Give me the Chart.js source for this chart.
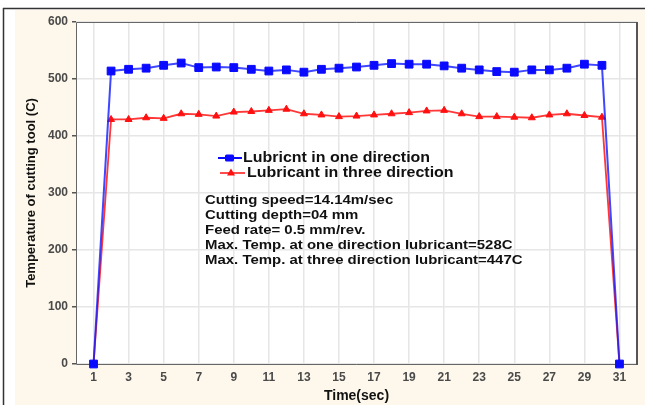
<!DOCTYPE html>
<html><head><meta charset="utf-8">
<script src="https://cdn.jsdelivr.net/npm/chart.js@4/dist/chart.umd.min.js"></script>
<style>html,body{margin:0;padding:0;background:#fff;} #wrap{width:647px;height:405px;}</style>
</head><body><div id="wrap"><canvas id="c" width="647" height="405"></canvas></div>
<script>
const timeSec = [1,2,3,4,5,6,7,8,9,10,11,12,13,14,15,16,17,18,19,20,21,22,23,24,25,26,27,28,29,30,31];
const oneDirection = [0,514,517,519,524,528,520,521,520,517,514,516,512,517,519,521,524,527,526,526,523,519,516,513,512,516,516,519,526,524,0];
const threeDirection = [0,429,429,432,431,439,438,435,442,443,445,447,439,437,434,435,437,439,441,444,445,439,434,434,433,432,437,439,436,433,0];
const xTickValues = [1,3,5,7,9,11,13,15,17,19,21,23,25,27,29,31];
const legendLabels = ['Lubricnt in one direction','Lubricant in three direction'];
const noteLines = ['Cutting speed=14.14m/sec','Cutting depth=04 mm','Feed rate= 0.5 mm/rev.','Max. Temp. at one direction lubricant=528C','Max. Temp. at three direction lubricant=447C'];
const xTitle = 'Time(sec)';
const yTitle = 'Temperature of cutting tool (C)';

const FONT = "'Liberation Sans', Arial, sans-serif";
const BLUE = '#0a0aff', RED = '#ff1010';

function stretchedText(ctx, text, x, y, size, sx) {
  ctx.save();
  ctx.translate(x, y);
  ctx.scale(sx, 1);
  ctx.font = 'bold ' + size + 'px ' + FONT;
  ctx.textBaseline = 'middle';
  ctx.textAlign = 'left';
  ctx.fillStyle = '#111';
  ctx.fillText(text, 0, 0);
  ctx.restore();
}

const decor = {
  id: 'decor',
  beforeDraw(chart) {
    const ctx = chart.ctx, a = chart.chartArea;
    ctx.save();
    ctx.fillStyle = '#fff';
    ctx.fillRect(0, 0, 647, 405);
    ctx.fillStyle = '#fdf8eb';
    ctx.fillRect(15, 10, 630, 395);
    ctx.strokeStyle = '#333';
    ctx.lineWidth = 1.5;
    ctx.beginPath();
    ctx.moveTo(3, 8.5); ctx.lineTo(645, 8.5);
    ctx.moveTo(3.5, 8); ctx.lineTo(3.5, 405);
    ctx.stroke();
    ctx.fillStyle = '#fff';
    ctx.fillRect(a.left, a.top, a.right - a.left, a.bottom - a.top);
    ctx.restore();
  },
  beforeDatasetsDraw(chart) {
    const ctx = chart.ctx, a = chart.chartArea;
    ctx.save();
    ctx.strokeStyle = '#666';
    ctx.lineWidth = 1;
    ctx.beginPath();
    ctx.moveTo(a.right, a.top + 0.5); ctx.lineTo(a.left + 0.5, a.top + 0.5);
    ctx.lineTo(a.left + 0.5, a.bottom + 0.5); ctx.lineTo(a.right, a.bottom + 0.5);
    ctx.stroke();
    ctx.lineWidth = 2;
    ctx.strokeStyle = '#555';
    ctx.beginPath();
    ctx.moveTo(a.right, a.top); ctx.lineTo(a.right, a.bottom + 1);
    ctx.stroke();
    ctx.restore();
  },
  afterDatasetsDraw(chart) {
    const ctx = chart.ctx;
    ctx.save();
    ctx.strokeStyle = BLUE; ctx.lineWidth = 2;
    ctx.beginPath(); ctx.moveTo(218, 158); ctx.lineTo(242, 158); ctx.stroke();
    ctx.fillStyle = BLUE;
    ctx.beginPath(); ctx.roundRect(225, 154.5, 9, 7, 1.5); ctx.fill();
    ctx.strokeStyle = RED; ctx.lineWidth = 1.5;
    ctx.beginPath(); ctx.moveTo(220, 173); ctx.lineTo(245, 173); ctx.stroke();
    ctx.fillStyle = RED;
    ctx.beginPath(); ctx.moveTo(231, 168.5); ctx.lineTo(235, 175.5); ctx.lineTo(227, 175.5); ctx.closePath(); ctx.fill();
    ctx.restore();
    stretchedText(ctx, legendLabels[0], 243, 158, 14, 1.14);
    stretchedText(ctx, legendLabels[1], 247, 173, 14, 1.14);
    noteLines.forEach((t, i) => stretchedText(ctx, t, 205, 200 + i * 15, 13, 1.15));
  }
};

new Chart(document.getElementById('c'), {
  type: 'line',
  data: {
    datasets: [
      {
        label: legendLabels[0],
        data: timeSec.map((t, i) => ({x: t, y: oneDirection[i]})),
        borderColor: 'rgba(15,25,255,0.8)',
        borderWidth: 2,
        pointStyle: 'rect',
        pointRadius: 5.5,
        pointBackgroundColor: BLUE,
        pointBorderColor: BLUE,
        pointBorderWidth: 1,
        clip: false,
        tension: 0
      },
      {
        label: legendLabels[1],
        data: timeSec.map((t, i) => ({x: t, y: threeDirection[i]})),
        borderColor: 'rgba(255,20,20,0.85)',
        borderWidth: 1.8,
        pointStyle: 'triangle',
        pointRadius: 4,
        pointBackgroundColor: RED,
        pointBorderColor: RED,
        pointBorderWidth: 1,
        clip: false,
        tension: 0
      }
    ]
  },
  options: {
    responsive: false,
    animation: false,
    devicePixelRatio: 1,
    layout: {padding: {left: 0, top: 22, right: 10, bottom: 0}},
    plugins: {legend: {display: false}, tooltip: {enabled: false}},
    scales: {
      x: {
        type: 'linear',
        min: 0, max: 32,
        afterFit(s) { s.height = 41; },
        afterBuildTicks(s) { s.ticks = xTickValues.map(v => ({value: v})); },
        grid: {color: '#e6e6e6', lineWidth: 1.5, drawTicks: false},
        border: {display: false},
        ticks: {
          autoSkip: false, maxRotation: 0, padding: 6,
          color: '#4a4a4a',
          font: {family: FONT, size: 12, weight: 'bold'},
          callback: v => String(v)
        },
        title: {
          display: true, text: xTitle, color: '#111',
          font: {family: FONT, size: 14, weight: 'bold'},
          padding: {top: 0, bottom: 0}
        }
      },
      y: {
        min: 0, max: 600,
        afterFit(s) { s.width = 76; },
        grid: {color: '#e6e6e6', lineWidth: 1.5, drawTicks: true, tickLength: 4, tickColor: '#555'},
        border: {display: false},
        ticks: {
          stepSize: 100, padding: 4,
          color: '#4a4a4a',
          font: {family: FONT, size: 12, weight: 'bold'}
        },
        title: {
          display: true, text: yTitle, color: '#111',
          font: {family: FONT, size: 13, weight: 'bold'},
          padding: {top: 24, bottom: 0}
        }
      }
    }
  },
  plugins: [decor]
});
</script>
</body></html>
